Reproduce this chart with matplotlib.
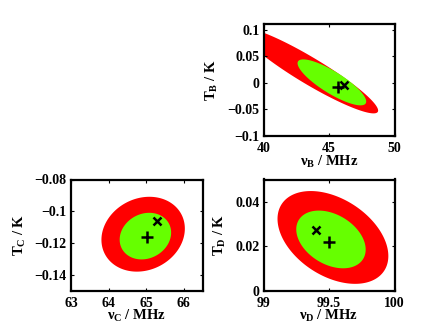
import numpy as np
import matplotlib
matplotlib.use("Agg")
import matplotlib.pyplot as plt

plt.rcParams['font.family'] = ['Liberation Serif', 'DejaVu Serif']
plt.rcParams['font.weight'] = 'bold'
plt.rcParams['mathtext.fontset'] = 'custom'
plt.rcParams['mathtext.rm'] = 'Liberation Serif:bold'
plt.rcParams['mathtext.it'] = 'Liberation Serif:bold'
plt.rcParams['mathtext.bf'] = 'Liberation Serif:bold'

# Panel names
panels = ['B', 'C', 'D']

# Contour regions: center x, center y, x half-extent, y half-extent, correlation
red_cx = [43.5, 64.92, 99.53]
red_cy = [0.023, -0.1145, 0.0239]
red_ax = [5.25, 1.11, 0.423]
red_ay = [0.0804, 0.0236, 0.0209]
red_rho = [-0.933, 0.15, -0.4]

green_cx = [45.22, 64.98, 99.515]
green_cy = [0.001, -0.1157, 0.023]
green_ax = [2.62, 0.685, 0.265]
green_ay = [0.0433, 0.0147, 0.013]
green_rho = [-0.832, 0.15, -0.35]

# Best-fit markers
plus_x = [45.67, 65.01, 99.50]
plus_y = [-0.0069, -0.116, 0.0217]
cross_x = [46.18, 65.30, 99.40]
cross_y = [-0.0038, -0.1061, 0.0273]

# Axes limits and ticks
xlims = [(40, 50), (63, 66.5), (99, 100)]
ylims = [(-0.1, 0.11), (-0.15, -0.08), (0, 0.05)]
xticks = [[40, 45, 50], [63, 64, 65, 66], [99, 99.5, 100]]
xticklabels = [['40', '45', '50'], ['63', '64', '65', '66'], ['99', '99.5', '100']]
yticks = [[-0.1, -0.05, 0, 0.05, 0.1], [-0.14, -0.12, -0.1, -0.08], [0, 0.02, 0.04]]
yticklabels = [['\u22120.1', '\u22120.05', '0', '0.05', '0.1'],
               ['\u22120.14', '\u22120.12', '\u22120.1', '\u22120.08'],
               ['0', '0.02', '0.04']]

W, H = 436, 328
fig = plt.figure(figsize=(W / 100, H / 100), dpi=100)
# axes rectangles in pixels: left, top, right, bottom
rects = [(263.5, 24.5, 394.5, 136), (71, 179.5, 202.5, 290.5), (263.5, 179.5, 394.5, 290.5)]

RED = '#ff0000'
GREEN = '#66ff00'


def region(cx, cy, ax_, ay_, rho):
    t = np.linspace(0, 2 * np.pi, 400)
    x = cx + ax_ * np.cos(t)
    y = cy + ay_ * (rho * np.cos(t) + np.sqrt(1 - rho ** 2) * np.sin(t))
    return x, y


for i, p in enumerate(panels):
    l, t, r, b = rects[i]
    ax = fig.add_axes([l / W, 1 - b / H, (r - l) / W, (b - t) / H])
    xr, yr = region(red_cx[i], red_cy[i], red_ax[i], red_ay[i], red_rho[i])
    ax.fill(xr, yr, color=RED, lw=0)
    xg, yg = region(green_cx[i], green_cy[i], green_ax[i], green_ay[i], green_rho[i])
    ax.fill(xg, yg, color=GREEN, lw=0)
    ax.plot(plus_x[i], plus_y[i], marker='+', color='k', ms=8, mew=1.8, ls='none')
    ax.plot(cross_x[i], cross_y[i], marker='x', color='k', ms=6, mew=1.8, ls='none')
    ax.set_xlim(*xlims[i])
    ax.set_ylim(*ylims[i])
    ax.set_xticks(xticks[i])
    ax.set_xticklabels(xticklabels[i], fontweight='bold', family='Liberation Serif')
    ax.set_yticks(yticks[i])
    ax.set_yticklabels(yticklabels[i], fontweight='bold', family='Liberation Serif')
    ax.tick_params(direction='in', length=2.5, width=0.8, top=True, right=True,
                   labelsize=10, pad=3)
    ax.tick_params(axis='x', pad=4.5)
    for s in ax.spines.values():
        s.set_linewidth(1.6)
    ax.set_xlabel(r'$\nu_{' + p + r'}$ / MHz', fontsize=10.5, labelpad=-1,
                  fontweight='bold', family='Liberation Serif')
    ax.set_ylabel(r'T$_{' + p + r'}$ / K', fontsize=10.5, labelpad=5,
                  fontweight='bold', family='Liberation Serif')

fig.savefig('out.png', dpi=100)
